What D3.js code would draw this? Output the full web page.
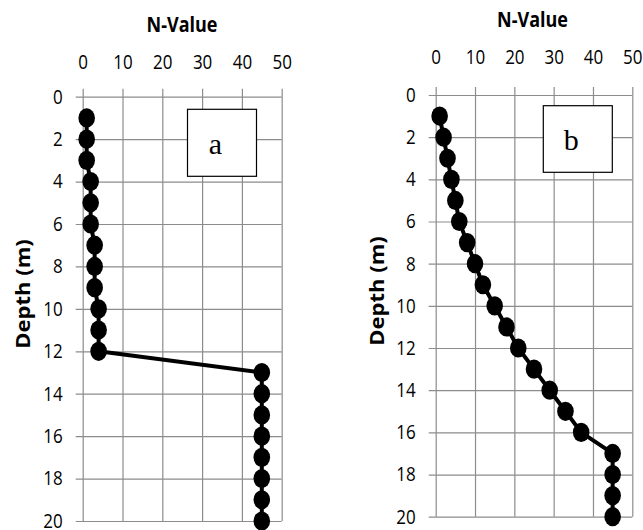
<!doctype html>
<html lang="en">

<head>
    <meta charset="utf-8">
    <title>N-Value vs Depth</title>
    <style>
        body {
            margin: 0;
            background-color: white;
        }

        svg {
            display: block;
        }

        .tick text {
            font-family: 'Open Sans', sans-serif;
            font-size: 17px;
            fill: #000;
        }

        .tick line {
            stroke: #8c8c8c;
            stroke-width: 1.2;
        }

        .title {
            font-family: 'Open Sans', sans-serif;
            font-weight: bold;
            fill: #000;
        }

        .label-box text {
            font-family: 'Liberation Serif', serif;
            font-size: 30px;
        }
    </style>
</head>

<body>
    <svg id="chart" width="643" height="530"></svg>
    <script src="https://d3js.org/d3.v7.min.js"></script>
    <script>

        var depths = [1, 2, 3, 4, 5, 6, 7, 8, 9, 10, 11, 12, 13, 14, 15, 16, 17, 18, 19, 20];
        var nValueA = [1, 1, 1, 2, 2, 2, 3, 3, 3, 4, 4, 4, 45, 45, 45, 45, 45, 45, 45, 45];
        var nValueB = [1, 2, 3, 4, 5, 6, 8, 10, 12, 15, 18, 21, 25, 29, 33, 37, 45, 45, 45, 45];
        var xTicks = [0, 10, 20, 30, 40, 50];
        var yTicks = [0, 2, 4, 6, 8, 10, 12, 14, 16, 18, 20];

        // the picture is a bit taller than wide, so text gets stretched
        var stretch = 1.18;

        var svg = d3.select("#chart");

        function drawPanel(values, opt) {

            var x = d3.scaleLinear().domain([0, 50]).range([opt.left, opt.right]);
            var y = d3.scaleLinear().domain([0, 20]).range([opt.top, opt.bottom]);
            var w = opt.right - opt.left;
            var h = opt.bottom - opt.top;

            var g = svg.append("g");

            // top axis, grid lines go down through the plot
            var gx = g.append("g")
                .attr("transform", "translate(0," + opt.top + ")")
                .call(d3.axisTop(x).tickValues(xTicks).tickSizeInner(-h).tickSizeOuter(0));
            gx.select(".domain").remove();
            gx.selectAll(".tick line").attr("y1", -8);
            gx.selectAll(".tick text")
                .attr("y", -opt.xPad / stretch)
                .attr("transform", "scale(1," + stretch + ")");

            var gy = g.append("g")
                .attr("transform", "translate(" + opt.left + ",0)")
                .call(d3.axisLeft(y).tickValues(yTicks).tickSizeInner(-w).tickSizeOuter(0).tickPadding(20));
            gy.select(".domain").remove();
            gy.selectAll(".tick line").attr("x1", -7);
            gy.selectAll(".tick text")
                .attr("transform", "scale(1," + stretch + ")");

            // titles
            g.append("text")
                .attr("class", "title")
                .attr("text-anchor", "middle")
                .attr("font-size", 18)
                .attr("transform", "translate(" + opt.titleX + "," + opt.titleY + ") scale(1," + stretch + ")")
                .text("N-Value");

            g.append("text")
                .attr("class", "title")
                .attr("text-anchor", "middle")
                .attr("dy", "0.35em")
                .attr("font-size", 19)
                .attr("transform", "translate(" + opt.depthX + "," + opt.depthY + ") rotate(-90) scale(1.16,1)")
                .text("Depth (m)");

            var pts = depths.map(function (d, i) { return { depth: d, n: values[i] }; });

            var line = d3.line()
                .x(function (d) { return x(d.n) })
                .y(function (d) { return y(d.depth) });

            g.append("path")
                .datum(pts)
                .attr("fill", "none")
                .attr("stroke", "#000")
                .attr("stroke-width", 4)
                .attr("stroke-linejoin", "round")
                .attr("d", line);

            g.selectAll(".marker")
                .data(pts)
                .enter()
                .append("ellipse")
                .attr("class", "marker")
                .attr("cx", function (d) { return x(d.n) })
                .attr("cy", function (d) { return y(d.depth) })
                .attr("rx", 8.3)
                .attr("ry", 9.6)
                .attr("fill", "#000");

            // label box
            var box = g.append("g").attr("class", "label-box");
            box.append("rect")
                .attr("x", opt.box[0])
                .attr("y", opt.box[1])
                .attr("width", opt.box[2])
                .attr("height", opt.box[3])
                .attr("fill", "white")
                .attr("stroke", "#000")
                .attr("stroke-width", 1.2);
            box.append("text")
                .attr("x", opt.letterX)
                .attr("y", opt.letterY)
                .attr("text-anchor", "middle")
                .text(opt.letter);
        }

        drawPanel(nValueA, {
            left: 82.7, right: 281.7, top: 96.7, bottom: 521,
            xPad: 27.4,
            titleX: 182, titleY: 32.3,
            depthX: 23, depthY: 294,
            box: [187.5, 109.3, 69, 67], letter: "a", letterX: 215.5, letterY: 154.3
        });

        drawPanel(nValueB, {
            left: 435.7, right: 632.3, top: 95, bottom: 516.7,
            xPad: 30.7,
            titleX: 532.5, titleY: 27.3,
            depthX: 377, depthY: 291,
            box: [543.3, 105.7, 69, 66.6], letter: "b", letterX: 571.3, letterY: 150
        });
    </script>
</body>

</html>
